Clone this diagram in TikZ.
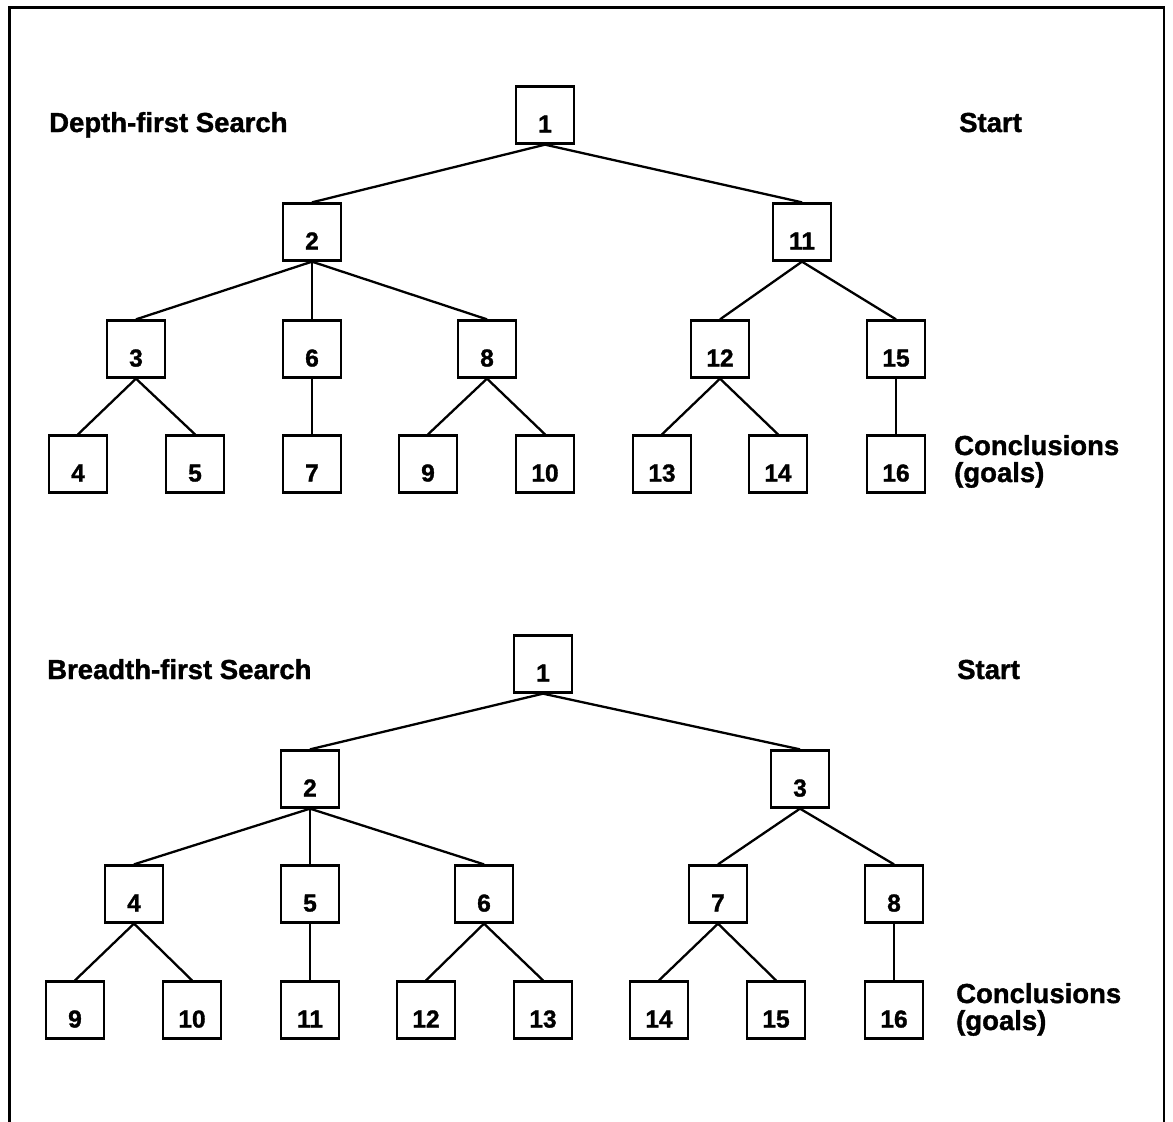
\documentclass[tikz,border=0pt]{standalone}
\usepackage{fontspec}
\setmainfont{Liberation Sans}[BoldFeatures={FakeBold=1.3}]
\begin{document}
\begin{tikzpicture}[x=1pt,y=-1pt,
  tbox/.style={draw,line width=2.3pt,minimum width=58pt,minimum height=57pt,inner sep=0pt,
    font=\fontsize{24.5}{24}\selectfont\bfseries,text height=35pt,text depth=0pt},
  edge/.style={line width=2.3pt},
  lbl/.style={font=\fontsize{27.5}{27}\selectfont\bfseries,inner sep=0pt,align=left}]
\useasboundingbox (0,0) rectangle (1173,1122);
\fill[white] (0,0) rectangle (1173,1122);
% frame
\draw[line width=2.4pt] (9.5,1122) -- (9.5,7.5) -- (1164,7.5) -- (1164,1122);

% ---------- Depth-first ----------
\node[lbl,anchor=base west] (dtitle) at (49,132) {Depth-first Search};
\node[lbl,anchor=base west] (dstart) at (959,132) {Start};
\node[lbl,anchor=base west] (dgoal) at (954,482) {Conclusions\\(goals)};

\node[tbox] (d1) at (545,115) {1};
\node[tbox] (d2) at (312,232) {2};
\node[tbox] (d11) at (802,232) {11};
\node[tbox] (d3) at (136,349) {3};
\node[tbox] (d6) at (312,349) {6};
\node[tbox] (d8) at (487,349) {8};
\node[tbox] (d12) at (720,349) {12};
\node[tbox] (d15) at (896,349) {15};
\node[tbox] (d4) at (78,464) {4};
\node[tbox] (d5) at (195,464) {5};
\node[tbox] (d7) at (312,464) {7};
\node[tbox] (d9) at (428,464) {9};
\node[tbox] (d10) at (545,464) {10};
\node[tbox] (d13) at (662,464) {13};
\node[tbox] (d14) at (778,464) {14};
\node[tbox] (d16) at (896,464) {16};

\foreach \p/\c in {d1/d2,d1/d11,d2/d3,d2/d6,d2/d8,d11/d12,d11/d15,
  d3/d4,d3/d5,d6/d7,d8/d9,d8/d10,d12/d13,d12/d14,d15/d16}
  \draw[edge] (\p.south) -- (\c.north);

% ---------- Breadth-first ----------
\node[lbl,anchor=base west] (btitle) at (47,679) {Breadth-first Search};
\node[lbl,anchor=base west] (bstart) at (957,679) {Start};
\node[lbl,anchor=base west] (bgoal) at (956,1030) {Conclusions\\(goals)};

\node[tbox] (b1) at (543,664) {1};
\node[tbox] (b2) at (310,779) {2};
\node[tbox] (b3) at (800,779) {3};
\node[tbox] (b4) at (134,894) {4};
\node[tbox] (b5) at (310,894) {5};
\node[tbox] (b6) at (484,894) {6};
\node[tbox] (b7) at (718,894) {7};
\node[tbox] (b8) at (894,894) {8};
\node[tbox] (b9) at (75,1010) {9};
\node[tbox] (b10) at (192,1010) {10};
\node[tbox] (b11) at (310,1010) {11};
\node[tbox] (b12) at (426,1010) {12};
\node[tbox] (b13) at (543,1010) {13};
\node[tbox] (b14) at (659,1010) {14};
\node[tbox] (b15) at (776,1010) {15};
\node[tbox] (b16) at (894,1010) {16};

\foreach \p/\c in {b1/b2,b1/b3,b2/b4,b2/b5,b2/b6,b3/b7,b3/b8,
  b4/b9,b4/b10,b5/b11,b6/b12,b6/b13,b7/b14,b7/b15,b8/b16}
  \draw[edge] (\p.south) -- (\c.north);
\end{tikzpicture}
\end{document}
